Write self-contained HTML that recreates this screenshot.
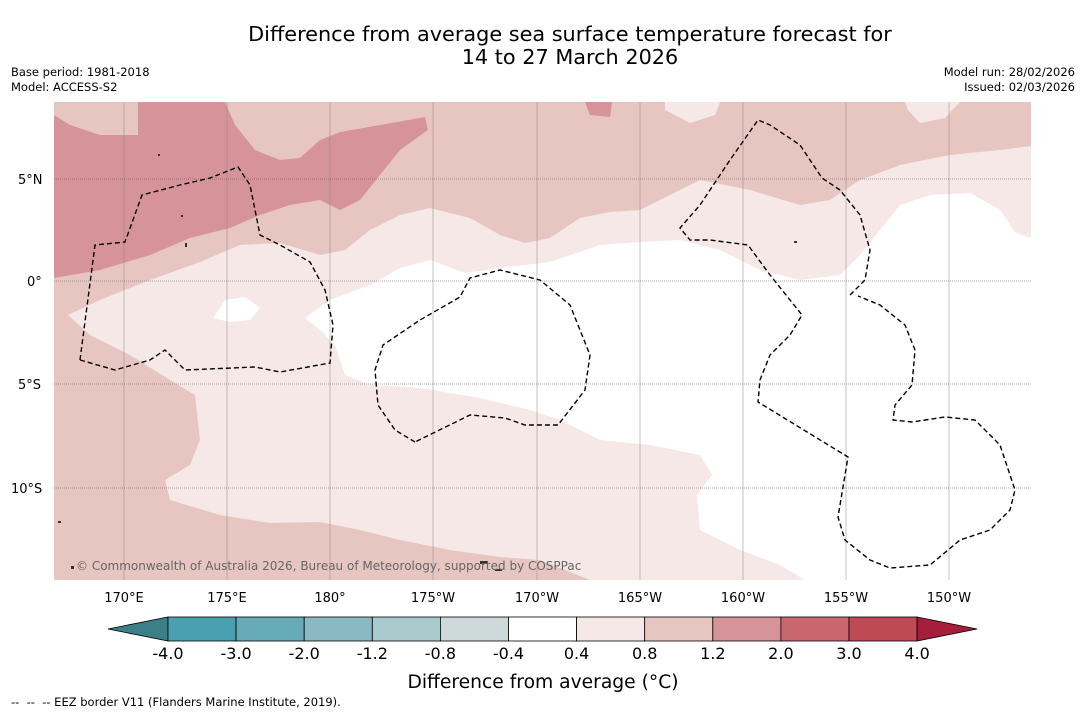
<!DOCTYPE html>
<html><head><meta charset="utf-8">
<style>
body{margin:0;background:#fff;width:1085px;height:713px;overflow:hidden;font-family:"Liberation Sans",sans-serif}
svg text{font-family:"DejaVu Sans","Liberation Sans",sans-serif}
</style></head>
<body>
<svg width="1085" height="713" viewBox="0 0 1085 713">
<rect width="1085" height="713" fill="#fff"/>
<text x="570" y="41" font-size="20.8" text-anchor="middle">Difference from average sea surface temperature forecast for</text>
<text x="570" y="64" font-size="20.8" text-anchor="middle">14 to 27 March 2026</text>
<text x="11" y="76" font-size="11.5">Base period: 1981-2018</text>
<text x="11" y="91" font-size="11.5">Model: ACCESS-S2</text>
<text x="1075" y="76" font-size="11.5" text-anchor="end">Model run: 28/02/2026</text>
<text x="1075" y="91" font-size="11.5" text-anchor="end">Issued: 02/03/2026</text>

<defs><clipPath id="mc"><rect x="54" y="102" width="977" height="478"/></clipPath></defs>
<g clip-path="url(#mc)">
<rect x="54" y="102" width="977" height="478" fill="#e7c6c2"/>
<path fill="#d6939a" d="M138,102 L225,102 L235,125 L255,150 L280,160 L300,158 L320,140 L340,132 L380,125 L425,117 L428,130 L400,150 L360,200 L340,210 L320,200 L290,205 L260,215 L230,228 L190,238 L150,255 L100,270 L54,278 L54,115 L70,125 L100,135 L138,135 Z M585,102 L612,102 L610,117 L590,115 Z"/>
<path fill="#f5e8e6" d="M68,315 L100,300 L150,280 L200,262 L240,245 L280,243 L320,255 L345,250 L370,230 L400,215 L430,208 L470,218 L500,235 L525,243 L550,238 L580,218 L610,212 L640,210 L670,195 L700,180 L750,190 L800,205 L830,200 L860,180 L900,165 L950,155 L1000,150 L1031,146 L1031,580 L590,580 L540,560 L500,557 L450,550 L400,540 L360,530 L320,522 L270,523 L220,515 L170,500 L165,480 L190,465 L200,440 L195,395 L170,380 L130,355 L90,335 Z M665,102 L720,102 L715,115 L690,123 L665,110 Z M905,102 L960,102 L945,118 L920,123 L908,110 Z"/>
<path fill="#ffffff" d="M305,318 L330,300 L370,285 L400,268 L430,260 L465,273 L500,268 L550,262 L600,245 L640,242 L680,240 L720,250 L760,270 L800,280 L840,275 L860,255 L880,230 L900,205 L930,195 L970,193 L1000,210 L1015,232 L1031,238 L1031,580 L805,580 L780,565 L740,550 L700,530 L697,495 L712,475 L700,455 L650,445 L600,440 L560,420 L530,410 L480,398 L420,388 L370,385 L345,375 L335,345 L320,330 Z M213,318 L225,300 L245,297 L260,308 L250,320 L230,322 Z"/>
<g stroke="#888" stroke-width="0.5">
<line x1="124" y1="102" x2="124" y2="580"/><line x1="227" y1="102" x2="227" y2="580"/><line x1="330" y1="102" x2="330" y2="580"/><line x1="433" y1="102" x2="433" y2="580"/><line x1="537" y1="102" x2="537" y2="580"/><line x1="640" y1="102" x2="640" y2="580"/><line x1="743" y1="102" x2="743" y2="580"/><line x1="846" y1="102" x2="846" y2="580"/><line x1="949" y1="102" x2="949" y2="580"/>
<g stroke-dasharray="1,1" stroke="#555"><line x1="54" y1="179" x2="1031" y2="179"/><line x1="54" y1="281" x2="1031" y2="281"/><line x1="54" y1="384" x2="1031" y2="384"/><line x1="54" y1="488" x2="1031" y2="488"/></g>
</g>
<g fill="none" stroke="#000" stroke-width="1.4" stroke-dasharray="5,3">
<path d="M80,360 L95,245 L125,242 L142,195 L180,185 L210,178 L238,167 L250,185 L260,235 L280,245 L310,262 L325,290 L333,325 L330,363 L280,372 L255,367 L185,370 L165,350 L150,360 L115,370 Z"/>
<path d="M415,442 L395,430 L378,405 L375,370 L383,345 L420,320 L460,297 L470,278 L500,270 L540,280 L570,305 L590,355 L585,390 L558,425 L525,425 L505,418 L470,415 Z"/>
<path d="M850,295 L865,280 L870,250 L860,215 L840,190 L822,178 L800,145 L770,125 L758,120 L730,160 L700,205 L680,228 L690,240 L710,240 L748,245 L770,275 L802,315 L790,335 L770,355 L760,380 L758,402 L848,457 L838,517 L845,540 L870,560 L890,568 L930,565 L960,540 L990,530 L1010,510 L1015,490 L1000,445 L975,420 L945,417 L912,422 L893,420 L895,405 L912,385 L915,350 L905,325 L880,305 L858,296"/>
</g>
<g fill="#333">
<rect x="158" y="154" width="2" height="2"/><rect x="181" y="215" width="2" height="2"/><rect x="185" y="243" width="2" height="4"/><rect x="794" y="241" width="3" height="2"/><rect x="480" y="561" width="8" height="3"/><rect x="495" y="569" width="7" height="2"/><rect x="58" y="521" width="3" height="2"/><rect x="71" y="566" width="3" height="3"/>
</g>
<text x="76" y="570" font-size="12" fill="#666">© Commonwealth of Australia 2026, Bureau of Meteorology, supported by COSPPac</text>
</g>
<g font-size="13">
<text x="18" y="184">5°N</text>
<text x="27" y="286">0°</text>
<text x="18" y="389">5°S</text>
<text x="11" y="493">10°S</text>
<g text-anchor="middle">
<text x="124" y="602">170°E</text>
<text x="227" y="602">175°E</text>
<text x="330" y="602">180°</text>
<text x="433" y="602">175°W</text>
<text x="537" y="602">170°W</text>
<text x="640" y="602">165°W</text>
<text x="743" y="602">160°W</text>
<text x="846" y="602">155°W</text>
<text x="949" y="602">150°W</text>
</g></g>
<g id="cbar"></g>
<text x="543" y="688" font-size="18.7" text-anchor="middle">Difference from average (°C)</text>
<text x="11" y="706" font-size="11.5">-- &#160;-- &#160;-- EEZ border V11 (Flanders Marine Institute, 2019).</text>
</svg>
<script>
const levels=["-4.0","-3.0","-2.0","-1.2","-0.8","-0.4","0.4","0.8","1.2","2.0","3.0","4.0"];
const binColors=["#4aa0b0","#67aab8","#8ab8c3","#a9c9cd","#cdd8d9","#ffffff","#f5e8e6","#e7c6c2","#d6939a","#c9676f","#bd4a55"];
const lowColor="#3d7f86", highColor="#a51f3a";
const g=document.getElementById('cbar'),ns="http://www.w3.org/2000/svg";
const x0=168,w=68.1,y0=617,h=24;
function mk(t,a){const e=document.createElementNS(ns,t);for(const k in a)e.setAttribute(k,a[k]);g.appendChild(e);return e;}
let l=mk('polygon',{points:`108,${y0+h/2} ${x0},${y0} ${x0},${y0+h}`,fill:lowColor,stroke:'#000','stroke-width':0.8});


binColors.forEach((c,i)=>{const r=mk('rect',{x:x0+i*w,y:y0,width:w,height:h,fill:c,stroke:'#000','stroke-width':0.8});

});
const xe=x0+binColors.length*w;
let hi=mk('polygon',{points:`${xe},${y0} ${xe+60},${y0+h/2} ${xe},${y0+h}`,fill:highColor,stroke:'#000','stroke-width':0.8});


levels.forEach((v,i)=>{const t=mk('text',{x:x0+i*w,y:659,'font-size':16,'text-anchor':'middle'});t.textContent=v;

});
</script>
</body></html>
